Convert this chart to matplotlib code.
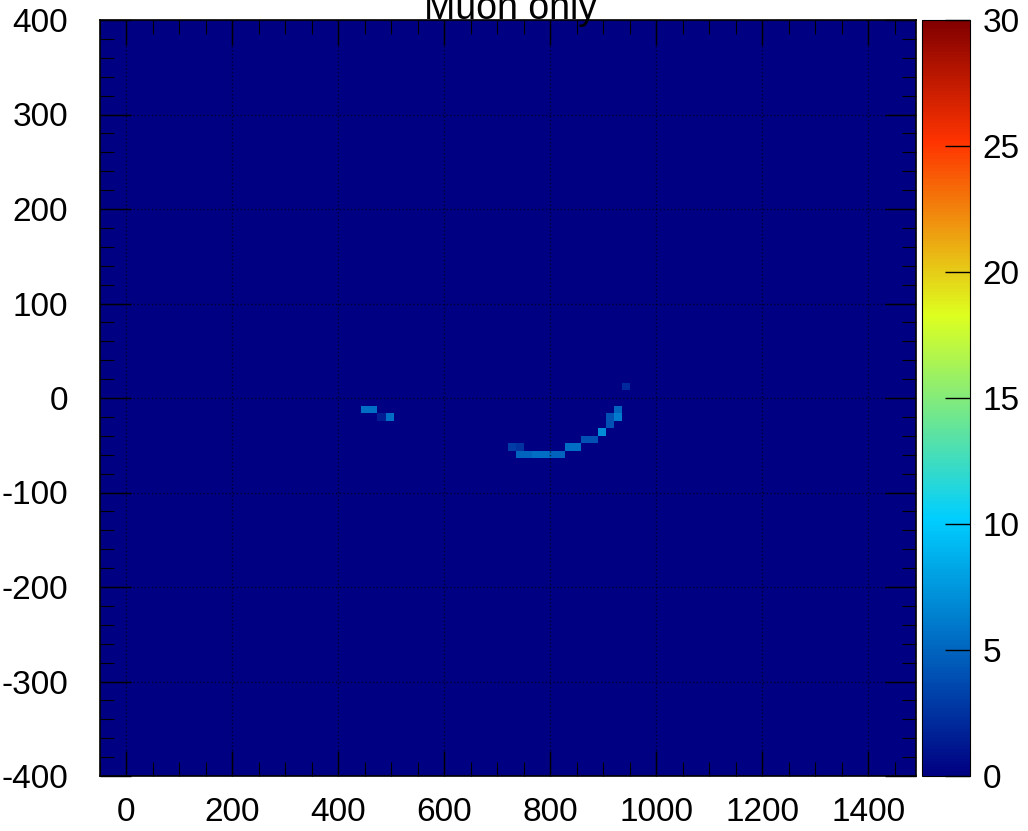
import numpy as np
import matplotlib
matplotlib.use("Agg")
import matplotlib.pyplot as plt
from matplotlib.colors import LinearSegmentedColormap
from matplotlib.ticker import MultipleLocator, FuncFormatter

plt.rcParams["font.family"] = ["Liberation Sans", "DejaVu Sans"]

# Histogram binning
X_MIN, X_MAX, NX = -50.0, 1490.0, 100
Y_MIN, Y_MAX, NY = -400.0, 400.0, 100
Z_MAX = 30

# Hit positions (bin centres) and deposited counts
hit_x = [453.1, 468.5, 483.9, 499.3,
         731.8, 747.2, 747.2, 762.6, 778.0, 793.4, 808.8, 824.2,
         839.6, 855.0, 870.4, 885.8, 901.2, 916.6, 916.6, 932.0, 932.0, 947.4]
hit_y = [-12.0, -12.0, -20.0, -20.0,
         -52.0, -52.0, -60.0, -60.0, -60.0, -60.0, -60.0, -60.0,
         -52.0, -52.0, -44.0, -44.0, -36.0, -28.0, -20.0, -20.0, -12.0, 12.0]
hit_counts = [5.5, 5.5, 1.5, 5.5,
              3.0, 2.5, 5.0, 5.0, 5.5, 5.5, 5.0, 5.0,
              5.5, 5.5, 4.0, 4.0, 7.0, 4.0, 4.0, 6.0, 5.0, 2.0]

x_ticks = [0, 200, 400, 600, 800, 1000, 1200, 1400]
y_ticks = [-400, -300, -200, -100, 0, 100, 200, 300, 400]
z_ticks = [0, 5, 10, 15, 20, 25, 30]

# Rainbow palette: dark blue -> cyan -> yellow -> red -> dark red
stops = [0.0, 0.34, 0.61, 0.84, 1.0]
reds = [0.0, 0.0, 0.87, 1.0, 0.51]
greens = [0.0, 0.81, 1.0, 0.2, 0.0]
blues = [0.51, 1.0, 0.12, 0.0, 0.0]
cmap = LinearSegmentedColormap.from_list(
    "rainbow55", list(zip(stops, zip(reds, greens, blues))), N=256)

x_edges = np.linspace(X_MIN, X_MAX, NX + 1)
y_edges = np.linspace(Y_MIN, Y_MAX, NY + 1)
H, _, _ = np.histogram2d(hit_x, hit_y, bins=[x_edges, y_edges], weights=hit_counts)

FS = 24
W, Hpx = 1028, 831
fig = plt.figure(figsize=(W / 100, Hpx / 100), dpi=100)
ax = fig.add_axes([100 / W, 55 / Hpx, 816 / W, 756 / Hpx])
cax = fig.add_axes([922 / W, 55 / Hpx, 48 / W, 756 / Hpx])

mesh = ax.pcolormesh(x_edges, y_edges, H.T, cmap=cmap, vmin=0, vmax=Z_MAX,
                     shading="flat", rasterized=True)
ax.set_xlim(X_MIN, X_MAX)
ax.set_ylim(Y_MIN, Y_MAX)

ax.set_xticks(x_ticks)
ax.set_yticks(y_ticks)
# plain hyphen keeps the negative labels compact
ax.yaxis.set_major_formatter(FuncFormatter(lambda v, p: f"{v:.0f}"))
ax.xaxis.set_minor_locator(MultipleLocator(50))
ax.yaxis.set_minor_locator(MultipleLocator(20))
ax.tick_params(axis="both", which="both", direction="in", top=True, right=True,
               color="black")
ax.tick_params(axis="x", which="major", length=18, width=1, labelsize=FS, pad=15)
ax.tick_params(axis="y", which="major", length=22, width=1, labelsize=FS, pad=23)
ax.tick_params(axis="both", which="minor", length=10, width=0.8)
ax.grid(True, which="major", color="black", linestyle=":", linewidth=1.0, alpha=0.6)
for s in ax.spines.values():
    s.set_linewidth(1.2)

cb = fig.colorbar(mesh, cax=cax, ticks=z_ticks)
cb.ax.tick_params(direction="in", length=18, width=1, labelsize=FS, pad=9,
                  color="black")
cb.outline.set_linewidth(0.8)

fig.text(510 / W, 1 - 19 / Hpx, "Muon only", ha="center", va="baseline",
         fontsize=27)

fig.savefig("out.png", dpi=100)
